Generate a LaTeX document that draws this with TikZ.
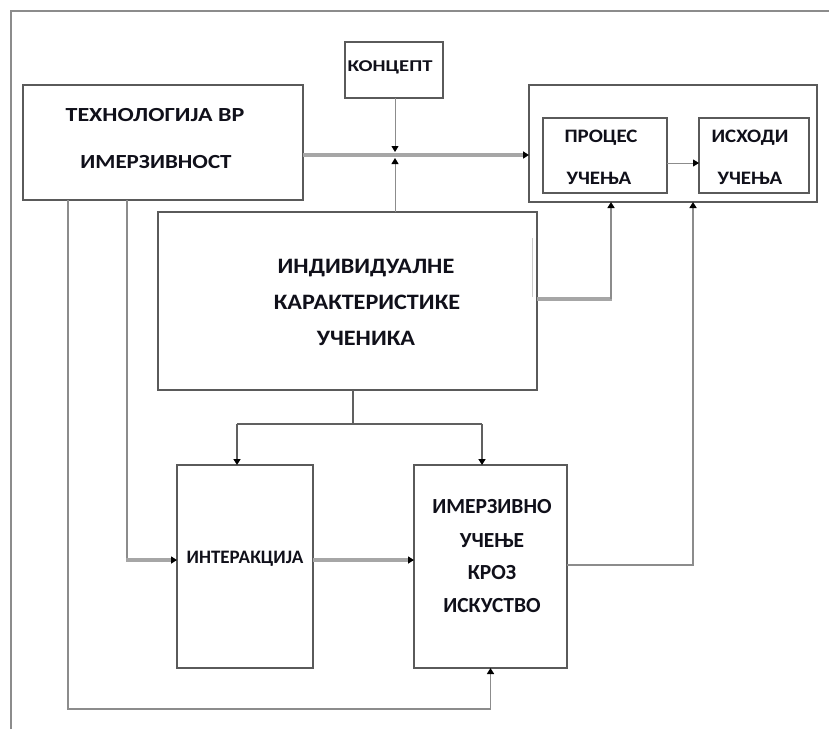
\documentclass[tikz,border=0pt]{standalone}
\usepackage{fontspec}
\setmainfont{Carlito}
\usetikzlibrary{arrows.meta}
\definecolor{boxc}{HTML}{5A5A5A}
\definecolor{linec}{HTML}{8C8C8C}
\definecolor{thickc}{HTML}{A6A6A6}
\definecolor{darkc}{HTML}{606060}
\definecolor{txtc}{HTML}{10101A}
\newcommand\hstretch[2]{\scalebox{#1}[1]{#2}}
\begin{document}
\begin{tikzpicture}[x=1pt,y=-1pt,
  box/.style={draw=boxc, line width=1.8pt, fill=white, inner sep=0pt, outer sep=0pt},
  lbl/.style={font=\bfseries\fontsize{#1}{#1}\selectfont, inner sep=0pt, text=txtc, text height=0.64em, text depth=0pt},
  conn/.style={draw=linec, line width=1.6pt},
  dconn/.style={draw=darkc, line width=1.8pt},
  thick line/.style={draw=thickc, line width=4pt},
  tip/.style={-{Triangle[length=6pt,width=7pt,color=black]}},
  frame/.style={draw=linec, line width=2pt}
]
\useasboundingbox (0,0) rectangle (829,729);
\draw[frame] (11,729) -- (11,11) -- (829,11);

% boxes
\node[box, minimum width=280pt, minimum height=115pt] (tech) at (163,142.5) {};
\node[box, minimum width=98pt, minimum height=56pt] (concept) at (394,70) {};
\node[box, minimum width=288pt, minimum height=117pt] (outer) at (673,143.5) {};
\node[box, minimum width=124pt, minimum height=75pt] (proc) at (605,155.5) {};
\node[box, minimum width=110pt, minimum height=75pt] (ish) at (754,155.5) {};
\node[box, minimum width=379pt, minimum height=178pt] (indiv) at (347.5,301) {};
\node[box, minimum width=136pt, minimum height=203pt] (inter) at (245,566.5) {};
\node[box, minimum width=153pt, minimum height=203pt] (imerz) at (490.5,566.5) {};

% texts
\node[lbl=20] (tech1) at (155,118) {\hstretch{1.2}{ТЕХНОЛОГИЈА ВР}};
\node[lbl=20] (tech2) at (156,165) {\hstretch{1.15}{ИМЕРЗИВНОСТ}};
\node[lbl=16.5] (concept1) at (390,68) {\hstretch{1.25}{КОНЦЕПТ}};
\node[lbl=19] (proc1) at (601,139) {\hstretch{1.1}{ПРОЦЕС}};
\node[lbl=19] (proc2) at (599,181) {\hstretch{1.1}{УЧЕЊА}};
\node[lbl=19] (ish1) at (750,139) {\hstretch{1.1}{ИСХОДИ}};
\node[lbl=19] (ish2) at (750,181) {\hstretch{1.1}{УЧЕЊА}};
\node[lbl=22] (indiv1) at (366,270) {\hstretch{1.1}{ИНДИВИДУАЛНЕ}};
\node[lbl=22] (indiv2) at (367,306) {\hstretch{1.1}{КАРАКТЕРИСТИКЕ}};
\node[lbl=22] (indiv3) at (366,342) {\hstretch{1.1}{УЧЕНИКА}};
\node[lbl=19] (inter1) at (245,560) {ИНТЕРАКЦИЈА};
\node[lbl=21.5] (imerz1) at (492,510) {ИМЕРЗИВНО};
\node[lbl=21.5] (imerz2) at (492,544) {УЧЕЊЕ};
\node[lbl=21.5] (imerz3) at (492,576) {КРОЗ};
\node[lbl=21.5] (imerz4) at (492,609) {ИСКУСТВО};

% faint artefact line inside the individual box
\draw[draw=thickc!60, line width=1pt] (532,238) -- (532,297);

% coordinates
\coordinate (j) at (395,155);
\coordinate (k) at (611,299);
\coordinate (m) at (693,565);
\coordinate (t1) at (68,709);
\coordinate (t2) at (127,560);
\coordinate (b) at (353,424);
\coordinate (b1) at (237,424);
\coordinate (b2) at (482,424);
\coordinate (pq) at (680,163);

% connectors
\draw[thick line, tip] (tech.east |- j) -- (outer.west |- j);
\draw[conn, line width=1pt, tip] (concept.south -| j) -- ([yshift=3pt]j);
\draw[conn, line width=1pt, tip] (indiv.north -| j) -- ([yshift=-3pt]j);
\draw[thick line] (indiv.east |- k) -- ([xshift=1pt]k);
\draw[conn, tip] (k) -- (k |- outer.south);
\draw[conn, tip] (imerz.east |- m) -- (m) -- (m |- outer.south);
\draw[conn, tip] (tech.south -| t1) -- (t1) -- (t1 -| imerz.south) -- (imerz.south);
\draw[conn] (tech.south -| t2) -- (t2);
\draw[thick line, tip] ([xshift=-1pt]t2) -- (inter.west |- t2);
\draw[dconn] (indiv.south -| b) -- (b);
\draw[dconn] (b1) -- (b2);
\draw[dconn, tip] (b1) -- (b1 |- inter.north);
\draw[dconn, tip] (b2) -- (b2 |- imerz.north);
\draw[thick line, tip] (inter.east |- t2) -- (imerz.west |- t2);
\draw[conn, line width=1pt, tip] (proc.east |- pq) -- (ish.west |- pq);
\end{tikzpicture}
\end{document}
